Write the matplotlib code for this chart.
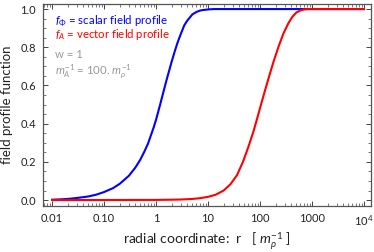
import matplotlib
matplotlib.use("Agg")
from matplotlib import pyplot as plt
from matplotlib.ticker import FixedLocator, MultipleLocator, LogLocator, NullFormatter
import numpy as np

plt.rcParams['font.family'] = ['Lato', 'DejaVu Sans']
plt.rcParams['mathtext.fontset'] = 'custom'
plt.rcParams['mathtext.rm'] = 'Lato'
plt.rcParams['mathtext.it'] = 'Lato:italic'

# scalar profile f_Phi
r_phi = [0.01, 0.015, 0.02, 0.03, 0.05, 0.07, 0.1, 0.15, 0.2, 0.3, 0.4, 0.5,
         0.6, 0.7, 0.8, 0.9, 1.0, 1.2, 1.4, 1.6, 1.8, 2.0, 2.3, 2.6, 3.0, 3.5,
         4.0, 5.0, 6.0, 7.0, 8.0, 10.0, 13.0, 20.0, 10000.0]
f_phi = [0.002, 0.004, 0.006, 0.011, 0.019, 0.028, 0.042, 0.063, 0.085, 0.127,
         0.170, 0.212, 0.255, 0.295, 0.34, 0.38, 0.42, 0.50, 0.57, 0.63, 0.68,
         0.725, 0.78, 0.825, 0.87, 0.915, 0.94, 0.972, 0.985, 0.992, 0.995,
         0.998, 1.0, 1.0, 1.0]

# vector profile f_A
r_a = [0.01, 1.0, 2.0, 3.0, 5.0, 7.0, 10.0, 14.0, 20.0, 27.0, 36.0, 47.0, 60.0,
       75.0, 93.0, 115.0, 145.0, 180.0, 225.0, 280.0, 350.0, 420.0, 500.0,
       600.0, 700.0, 850.0, 1000.0, 10000.0]
f_a = [0.0, 0.001, 0.002, 0.003, 0.006, 0.010, 0.017, 0.028, 0.050, 0.083,
       0.13, 0.20, 0.28, 0.36, 0.45, 0.54, 0.635, 0.72, 0.80, 0.87, 0.925,
       0.96, 0.982, 0.993, 0.998, 1.0, 1.0, 1.0]

xticks = [0.01, 0.1, 1, 10, 100, 1000, 10000]
xlabels = ['0.01', '0.10', '1', '10', '100', '1000', '$10^4$']
yticks = [0.0, 0.2, 0.4, 0.6, 0.8, 1.0]

fig = plt.figure(figsize=(3.74, 2.52), dpi=100)
ax = fig.add_axes([0.115, 0.1825, 0.877, 0.8035])

ax.plot(r_phi, f_phi, color='#0000ff', lw=1.5)
ax.plot(r_a, f_a, color='#ff0000', lw=1.5)

ax.set_xscale('log')
ax.set_xlim(0.00671, 13646)
ax.set_ylim(-0.031, 1.029)

ax.xaxis.set_major_locator(FixedLocator(xticks))
ax.set_xticklabels(xlabels)
ax.xaxis.set_minor_locator(LogLocator(base=10, subs=np.arange(2, 10)))
ax.xaxis.set_minor_formatter(NullFormatter())
ax.set_yticks(yticks)
ax.set_yticklabels(['%.1f' % v for v in yticks])
ax.yaxis.set_minor_locator(MultipleLocator(0.05))

ax.tick_params(which='both', direction='in', top=True, right=True,
               labelsize=8, colors='#444444', labelcolor='#222222')
ax.tick_params(which='major', length=3.5, width=0.7, pad=5)
ax.tick_params(which='minor', length=2, width=0.5)
for s in ax.spines.values():
    s.set_color('#555555')
    s.set_linewidth(0.9)

ax.set_ylabel('field profile function', fontsize=9.5, color='#222222', labelpad=5)
ax.set_xlabel(r'radial coordinate:  r   [ $m_\rho^{-1}$ ]', fontsize=10,
              color='#222222', labelpad=2)

tx = 0.037
ax.text(tx, 0.912, r'$f_\Phi$ = scalar field profile', transform=ax.transAxes,
        color='#0000ff', fontsize=8.2, va='center')
ax.text(tx, 0.846, r'$f_A$ = vector field profile', transform=ax.transAxes,
        color='#ff0000', fontsize=8.2, va='center')
ax.text(tx, 0.746, 'w = 1', transform=ax.transAxes,
        color='#999999', fontsize=8.2, va='center')
ax.text(tx, 0.662, r'$m_A^{-1}$ = 100. $m_\rho^{-1}$', transform=ax.transAxes,
        color='#999999', fontsize=8.2, va='center')

fig.savefig('out.png', dpi=100)
